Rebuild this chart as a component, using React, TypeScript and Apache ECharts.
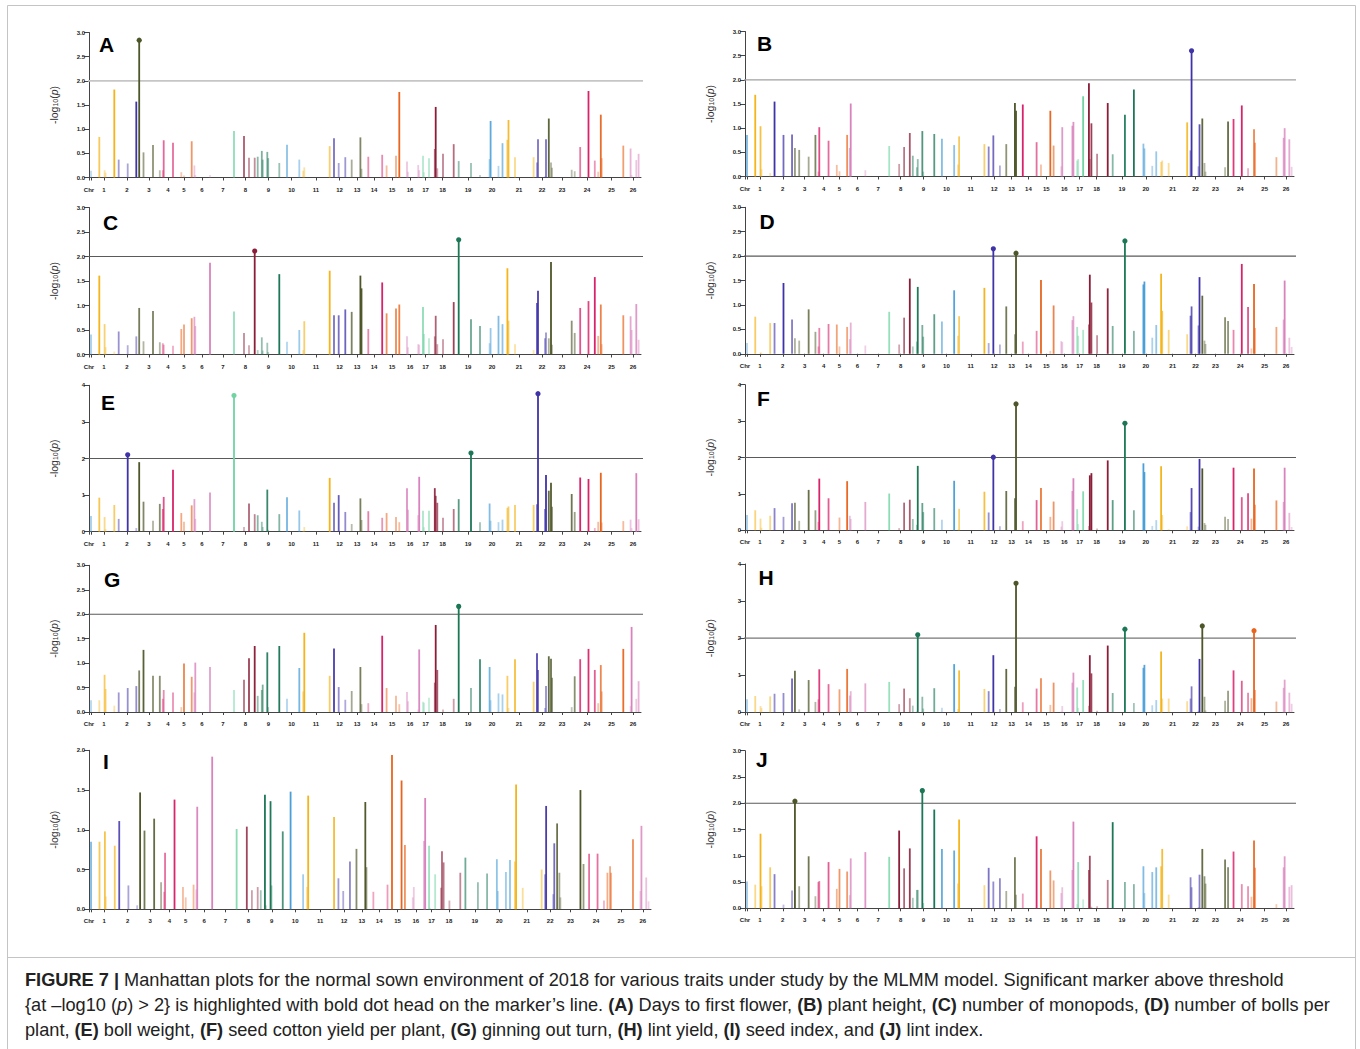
import React, { useEffect, useRef } from 'react';
import * as echarts from 'echarts';

// Chromosome tick labels and their positions along the genome axis
const chrLabels = ['Chr', '1', '2', '3', '4', '5', '6', '7', '8', '9', '10', '11', '12', '13', '14', '15', '16', '17', '18', '19', '20', '21', '22', '23', '24', '25', '26'];
const chrLabelPos = [0, 15, 38, 60, 79, 95, 113, 134, 156.5, 179.5, 202.5, 227, 250.5, 268, 285, 303, 321, 336.5, 353.5, 379, 403, 430, 453, 473, 498, 522.5, 544];
const chrTickPos = [0, 2.5, 15, 38, 60, 79, 95, 113, 134, 156.5, 179.5, 202.5, 227, 250.5, 268, 285, 303, 321, 336.5, 353.5, 379, 403, 430, 453, 473, 498, 522.5, 544];

// Marker positions (cumulative genome position) and chromosome of each marker
const markerPos = [
  2, 10.3, 15.6, 16.6, 25.3, 29.7, 38.7, 47.3, 50.2, 54.5,
  64, 70.8, 73.8, 74.7, 84, 92.3, 95, 102.7, 105.4, 106.3,
  121, 145, 155, 160, 165.7, 168.7, 172.8, 173.7, 178.3, 179.2,
  190.3, 198, 210.3, 214.2, 215.3, 240.7, 245, 249.7, 256.3, 262.7,
  271.4, 272.5, 279.3, 293.2, 297.6, 307, 310.3, 318, 319, 329.2,
  330.2, 334, 335, 340, 345.8, 346.7, 348.3, 354, 364.7, 369.7,
  382, 391, 400.6, 401.6, 409.5, 413.5, 418.4, 419.5, 426, 444.6,
  448, 449, 456, 457, 459.8, 462, 463, 482.7, 485.7, 491.2,
  499.5, 505.8, 509.2, 511.8, 512.7, 534.3, 541.6, 542.6, 547.3, 549.6,
];
const markerChr = [
  0, 1, 1, 1, 1, 2, 2, 2, 3, 3,
  3, 3, 4, 4, 4, 5, 5, 5, 6, 6,
  6, 7, 8, 8, 8, 9, 9, 9, 9, 9,
  9, 10, 10, 11, 11, 11, 12, 12, 12, 13,
  13, 13, 14, 14, 15, 15, 15, 16, 16, 16,
  16, 17, 17, 17, 18, 18, 18, 18, 18, 19,
  19, 19, 20, 20, 20, 20, 21, 21, 21, 21,
  22, 22, 22, 22, 23, 23, 23, 23, 23, 24,
  24, 24, 25, 25, 25, 25, 26, 26, 26, 26,
];

// -log10(p) per marker for each trait
const traitA = [
  0.14, 0.84, 0.15, 0.10, 1.82, 0.37, 0.29, 1.57, 2.84, 0.52,
  0.67, 0.15, 0.15, 0.77, 0.72, 0.11, 0.04, 0.75, 0.25, 0.05,
  0.05, 0.96, 0.86, 0.41, 0.41, 0.43, 0.55, 0.37, 0.53, 0.40,
  0.30, 0.68, 0.37, 0.14, 0.21, 0.65, 0.81, 0.30, 0.42, 0.37,
  0.83, 0.18, 0.43, 0.47, 0.25, 0.45, 1.77, 0.33, 0.12, 0.26,
  0.15, 0.45, 0.11, 0.40, 0.59, 1.46, 0.19, 0.49, 0.69, 0.34,
  0.30, 0.05, 0.38, 1.17, 0.24, 0.71, 0.78, 1.19, 0.42, 0.42,
  0.31, 0.79, 0.02, 0.79, 1.22, 0.31, 0.20, 0.16, 0.13, 0.63,
  1.79, 0.35, 0.12, 1.30, 0.40, 0.66, 0.60, 0.05, 0.36, 0.49,
];
const traitB = [
  0.86, 1.69, 1.04, 0.15, 0.07, 1.55, 0.86, 0.87, 0.59, 0.55,
  0.41, 0.86, 0.10, 1.02, 0.74, 0.24, 0.11, 0.86, 0.59, 1.51,
  0.13, 0.63, 0.26, 0.61, 0.90, 0.43, 0.19, 0.36, 0.94, 0.10,
  0.88, 0.78, 0.65, 0.25, 0.83, 0.67, 0.62, 0.85, 0.23, 0.67,
  1.52, 1.36, 1.49, 0.71, 0.25, 1.36, 0.64, 0.21, 1.02, 1.05,
  1.13, 0.33, 0.36, 1.66, 1.93, 0.36, 1.10, 0.47, 1.52, 0.46,
  1.28, 1.80, 0.68, 0.58, 0.22, 0.52, 0.30, 0.33, 0.28, 1.12,
  0.54, 2.60, 0.21, 1.08, 1.20, 0.28, 0.10, 0.19, 1.14, 1.19,
  1.47, 0.17, 0.01, 0.98, 0.70, 0.40, 0.80, 1.00, 0.77, 0.20,
];
const traitC = [
  0.41, 1.61, 0.62, 0.15, 0.06, 0.47, 0.19, 0.37, 0.95, 0.27,
  0.89, 0.25, 0.23, 0.20, 0.18, 0.52, 0.61, 0.74, 0.77, 0.58,
  1.87, 0.88, 0.44, 0.19, 2.11, 0.09, 0.35, 0.08, 0.24, 0.05,
  1.64, 0.26, 0.50, 0.09, 0.68, 1.71, 0.80, 0.80, 0.92, 0.87,
  1.61, 1.35, 0.52, 1.47, 0.84, 0.94, 1.02, 0.37, 0.15, 0.21,
  0.20, 0.97, 0.42, 0.33, 0.37, 0.79, 0.21, 0.31, 1.07, 2.34,
  0.72, 0.58, 0.23, 0.54, 0.79, 0.62, 1.76, 0.69, 0.21, 0.09,
  1.05, 1.30, 0.33, 0.45, 0.33, 1.89, 0.20, 0.69, 0.44, 0.95,
  1.09, 1.58, 0.38, 1.02, 0.21, 0.80, 0.78, 0.50, 1.03, 0.30,
];
const traitD = [
  0.22, 0.76, 0.03, 0.02, 0.63, 0.63, 1.45, 0.70, 0.32, 0.27,
  0.91, 0.45, 0.15, 0.53, 0.61, 0.60, 0.15, 0.55, 0.30, 0.64,
  0.17, 0.86, 0.19, 0.74, 1.54, 0.15, 0.25, 1.37, 0.59, 0.35,
  0.81, 0.66, 1.30, 0.37, 0.77, 1.35, 0.22, 2.15, 0.19, 0.97,
  0.40, 2.06, 0.25, 0.47, 1.51, 0.06, 0.99, 0.26, 0.24, 0.69,
  0.77, 0.55, 0.37, 0.49, 0.60, 1.62, 1.05, 0.38, 1.34, 0.57,
  2.31, 0.47, 1.42, 1.48, 0.33, 0.59, 1.64, 0.88, 0.49, 0.40,
  0.78, 0.97, 0.58, 1.57, 1.19, 0.27, 0.20, 0.75, 0.67, 0.49,
  1.84, 0.96, 0.11, 1.43, 0.53, 0.55, 0.70, 1.50, 0.33, 0.14,
];
const traitE = [
  0.43, 0.93, 0.40, 0.07, 0.73, 0.35, 2.10, 0.10, 1.90, 0.82,
  0.30, 0.76, 0.62, 0.95, 1.69, 0.51, 0.27, 0.72, 0.89, 0.35,
  1.07, 3.72, 0.13, 0.77, 0.48, 0.45, 0.27, 0.13, 1.15, 0.05,
  0.48, 0.94, 0.58, 0.02, 0.13, 1.47, 0.79, 1.00, 0.54, 0.21,
  0.91, 0.32, 0.56, 0.38, 0.51, 0.40, 0.26, 1.19, 0.60, 0.45,
  1.50, 0.57, 0.12, 0.57, 1.19, 0.98, 0.79, 0.38, 0.62, 0.89,
  2.15, 0.26, 0.77, 0.30, 0.26, 0.33, 0.65, 0.69, 0.73, 0.73,
  0.75, 3.77, 0.62, 1.55, 1.12, 1.34, 0.68, 1.03, 0.54, 1.48,
  1.44, 0.10, 0.27, 1.61, 0.25, 0.29, 0.33, 0.10, 1.60, 0.34,
];
const traitF = [
  0.42, 0.55, 0.32, 0.07, 0.40, 0.61, 0.37, 0.74, 0.76, 0.26,
  1.11, 0.55, 0.23, 1.42, 0.88, 0.01, 0.35, 1.35, 0.40, 0.31,
  0.78, 1.01, 0.06, 0.76, 0.84, 0.31, 0.15, 1.77, 0.75, 0.50,
  0.61, 0.29, 1.36, 0.02, 0.59, 1.06, 0.49, 2.01, 0.11, 1.08,
  0.88, 3.47, 0.25, 0.83, 1.16, 0.37, 0.79, 0.10, 0.25, 1.08,
  1.43, 0.58, 0.17, 1.07, 0.12, 1.51, 1.57, 0.05, 1.92, 0.83,
  2.94, 0.55, 1.84, 1.60, 0.12, 0.28, 1.76, 0.42, 0.03, 0.11,
  0.50, 1.16, 0.10, 1.96, 1.70, 0.20, 0.15, 0.37, 0.31, 1.72,
  0.91, 1.02, 0.32, 1.70, 0.70, 0.82, 0.78, 1.72, 0.48, 0.09,
];
const traitG = [
  0.24, 0.24, 0.76, 0.47, 0.13, 0.40, 0.49, 0.53, 0.85, 1.27,
  0.74, 0.74, 0.27, 0.45, 0.40, 0.10, 0.99, 0.72, 0.40, 1.01,
  0.92, 0.45, 0.66, 1.10, 1.35, 0.33, 0.45, 0.56, 1.22, 0.10,
  1.35, 0.27, 0.90, 0.42, 1.62, 0.74, 1.30, 0.51, 0.25, 0.43,
  0.92, 0.16, 0.18, 1.56, 0.49, 0.33, 0.16, 0.41, 0.22, 0.05,
  1.28, 0.21, 0.19, 0.29, 0.60, 1.78, 0.86, 0.05, 0.27, 2.16,
  0.49, 1.08, 0.92, 0.24, 0.38, 0.36, 0.74, 0.08, 1.08, 0.62,
  1.20, 0.86, 0.08, 0.53, 1.14, 1.09, 0.70, 0.10, 0.73, 1.08,
  1.29, 0.86, 0.18, 0.96, 0.42, 1.29, 0.12, 1.74, 0.27, 0.63,
];
const traitH = [
  0.35, 0.44, 0.17, 0.12, 0.43, 0.50, 0.52, 0.91, 1.12, 0.08,
  0.87, 0.28, 0.35, 1.16, 0.76, 0.02, 0.62, 1.17, 0.45, 0.57,
  0.78, 0.82, 0.22, 0.64, 0.38, 0.18, 0.02, 2.09, 0.42, 0.10,
  0.65, 0.12, 1.30, 0.09, 1.13, 0.63, 0.57, 1.54, 0.09, 1.17,
  0.69, 3.48, 0.27, 0.64, 0.92, 0.20, 0.80, 0.02, 0.17, 0.80,
  1.07, 0.67, 0.12, 0.87, 0.18, 1.54, 1.05, 0.04, 1.80, 0.52,
  2.24, 0.25, 1.20, 1.28, 0.19, 0.33, 1.64, 0.37, 0.37, 0.30,
  0.37, 0.70, 0.04, 1.44, 2.33, 0.42, 0.05, 0.31, 0.58, 1.13,
  0.85, 0.53, 0.38, 2.20, 0.60, 0.29, 0.66, 0.88, 0.53, 0.23,
];
const traitI = [
  0.85, 0.85, 0.98, 0.16, 0.80, 1.11, 0.30, 0.05, 1.47, 0.99,
  1.14, 0.34, 0.22, 0.71, 1.38, 0.28, 0.15, 0.31, 0.25, 1.29,
  1.92, 1.01, 1.04, 0.24, 0.28, 0.24, 1.44, 0.05, 1.36, 0.30,
  0.98, 1.48, 0.44, 0.28, 1.43, 1.16, 0.39, 0.23, 0.60, 0.76,
  1.35, 0.53, 0.22, 0.31, 1.94, 1.62, 0.81, 0.15, 0.28, 0.86,
  1.40, 0.80, 0.02, 0.44, 0.27, 0.73, 0.59, 0.11, 0.46, 0.65,
  0.34, 0.45, 0.63, 0.23, 0.47, 0.62, 0.60, 1.57, 0.27, 0.50,
  0.44, 1.30, 0.19, 0.83, 1.08, 0.46, 0.15, 1.50, 0.57, 0.70,
  0.70, 0.11, 0.46, 0.54, 0.46, 0.88, 0.23, 1.05, 0.40, 0.10,
];
const traitJ = [
  0.51, 0.45, 1.42, 0.42, 0.78, 0.65, 0.07, 0.34, 2.04, 0.42,
  0.99, 0.23, 0.50, 0.52, 0.88, 0.37, 0.75, 0.70, 0.25, 0.95,
  1.07, 0.98, 1.48, 0.76, 1.14, 0.20, 0.35, 0.35, 2.24, 0.10,
  1.88, 1.13, 1.10, 0.47, 1.69, 0.44, 0.77, 0.51, 0.57, 0.33,
  0.97, 0.26, 0.28, 1.37, 1.13, 0.72, 0.53, 0.29, 0.40, 0.73,
  1.65, 0.08, 0.88, 0.17, 0.73, 1.00, 0.03, 0.04, 0.54, 1.64,
  0.50, 0.46, 0.80, 0.29, 0.69, 0.78, 0.80, 1.13, 0.26, 0.01,
  0.59, 0.40, 0.02, 0.64, 1.13, 0.61, 0.47, 0.93, 0.78, 1.08,
  0.46, 0.42, 0.22, 1.29, 0.77, 0.08, 0.78, 0.99, 0.41, 0.44,
];

const THRESHOLD = 2;

const chrPalette = ['#4a9fd8', '#f4b41a', '#3f33a8', '#4d5628', '#d8236a', '#e8651f', '#d883bd', '#6fd3a3', '#8a1d38', '#1c7757'];

type Panel = {
  letter: string; values: number[]; yMax: number; yStep: number; dec: number;
  left: number; top: number; width: number; height: number;
  thr: string | null; letterX: number; letterY: number;
};

const panels: Panel[] = [
  { letter: 'A', values: traitA, yMax: 3, yStep: 0.5, dec: 1, left: 89, top: 32.5, width: 552, height: 145, thr: '#c6c6c6', letterX: 99, letterY: 44.5 },
  { letter: 'B', values: traitB, yMax: 3, yStep: 0.5, dec: 1, left: 745, top: 31.5, width: 549, height: 145, thr: '#a0a0a0', letterX: 757, letterY: 43.5 },
  { letter: 'C', values: traitC, yMax: 3, yStep: 0.5, dec: 1, left: 89, top: 207.5, width: 552, height: 147, thr: '#5a5a5a', letterX: 103, letterY: 222 },
  { letter: 'D', values: traitD, yMax: 3, yStep: 0.5, dec: 1, left: 745, top: 207.3, width: 549, height: 146.5, thr: '#5a5a5a', letterX: 759.5, letterY: 221 },
  { letter: 'E', values: traitE, yMax: 4, yStep: 1, dec: 0, left: 89, top: 385.3, width: 552, height: 146.4, thr: '#5a5a5a', letterX: 101, letterY: 402 },
  { letter: 'F', values: traitF, yMax: 4, yStep: 1, dec: 0, left: 745, top: 384.7, width: 549, height: 145.6, thr: '#5a5a5a', letterX: 757, letterY: 398.5 },
  { letter: 'G', values: traitG, yMax: 3, yStep: 0.5, dec: 1, left: 89, top: 565.3, width: 552, height: 146.7, thr: '#5a5a5a', letterX: 104, letterY: 579 },
  { letter: 'H', values: traitH, yMax: 4, yStep: 1, dec: 0, left: 745, top: 564, width: 549, height: 148.3, thr: '#777777', letterX: 758.5, letterY: 577 },
  { letter: 'I', values: traitI, yMax: 2, yStep: 0.5, dec: 1, left: 89, top: 750.3, width: 562, height: 159, thr: null, letterX: 103, letterY: 761.5 },
  { letter: 'J', values: traitJ, yMax: 3, yStep: 0.5, dec: 1, left: 745, top: 750.7, width: 549, height: 157.6, thr: '#5a5a5a', letterX: 756, letterY: 759.5 },
];

const FONT = 'Liberation Sans, Arial, Helvetica, sans-serif';
const CAP = 18.2;

function chrLabelFor(v: number): string {
  for (let i = 0; i < chrLabelPos.length; i++) {
    if (Math.abs(chrLabelPos[i] - v) < 0.01) return chrLabels[i];
  }
  return '';
}

function buildOption() {
  const grid: any[] = [];
  const xAxis: any[] = [];
  const yAxis: any[] = [];
  const series: any[] = [];
  const graphic: any[] = [];

  panels.forEach((p, i) => {
    grid.push({ left: p.left, top: p.top, width: p.width, height: p.height, containLabel: false });
    xAxis.push({
      type: 'value', gridIndex: i, min: 0, max: 552, offset: 6,
      axisLine: { show: true, lineStyle: { color: '#444', width: 1 } },
      axisTick: { show: true, customValues: chrTickPos, length: 3, lineStyle: { color: '#444', width: 1 } },
      axisLabel: {
        customValues: chrLabelPos, formatter: (v: number) => chrLabelFor(v),
        fontSize: 6, fontWeight: 'bold', color: '#222', fontFamily: FONT, margin: 3,
      },
      splitLine: { show: false },
    });
    yAxis.push({
      type: 'value', gridIndex: i, min: 0, max: p.yMax, interval: p.yStep,
      axisLine: { show: true, lineStyle: { color: '#444', width: 1 } },
      axisTick: { show: true, length: 5, lineStyle: { color: '#444' } },
      axisLabel: {
        fontSize: 6, fontWeight: 'bold', color: '#222', fontFamily: FONT, margin: 4,
        formatter: (v: number) => v.toFixed(p.dec),
      },
      splitLine: { show: false },
      name: '-log{s|10}({i|p})', nameLocation: 'middle', nameRotate: 90, nameGap: 30,
      nameTextStyle: {
        fontSize: 10.5, color: '#333', fontFamily: FONT,
        rich: {
          s: { fontSize: 7, color: '#333', fontFamily: FONT, padding: [0, 0, -4, 0] },
          i: { fontSize: 10.5, color: '#333', fontFamily: FONT, fontStyle: 'italic' },
        },
      },
    });
    const data = markerPos.map((x, k) => [x, p.values[k], markerChr[k]]);
    series.push({
      type: 'custom', xAxisIndex: i, yAxisIndex: i, data, clip: false, silent: true,
      encode: { x: 0, y: 1 },
      renderItem: (_params: any, api: any) => {
        const x = api.value(0) as number;
        const h = api.value(1) as number;
        const c = api.value(2) as number;
        const base = api.coord([x, 0]);
        const top = api.coord([x, h]);
        const color = chrPalette[c % 10];
        const sig = h > THRESHOLD;
        const op = sig ? 1 : 0.3 + 0.7 * Math.min(1, h / 1.4);
        const children: any[] = [
          { type: 'rect', shape: { x: base[0] - 0.9, y: top[1], width: 1.8, height: Math.max(0.5, base[1] - top[1]) }, style: { fill: color, opacity: op } },
        ];
        if (sig) children.push({ type: 'circle', shape: { cx: top[0], cy: top[1], r: 2.6 }, style: { fill: color } });
        return { type: 'group', children };
      },
    });
    if (p.thr) {
      series.push({
        type: 'line', xAxisIndex: i, yAxisIndex: i, clip: false, silent: true, symbol: 'none',
        data: [[-5, THRESHOLD], [566, THRESHOLD]], z: 1,
        lineStyle: { color: p.thr, width: p.letter === 'A' ? 1.6 : 1.1 },
      });
    }
    graphic.push({
      type: 'text', x: p.letterX, y: p.letterY, silent: true,
      style: { text: p.letter, fontSize: 21, fontWeight: 'bold', fontFamily: FONT, fill: '#000', textAlign: 'left', textVerticalAlign: 'middle', align: 'left', verticalAlign: 'middle' },
    });
  });

  // frame
  graphic.push({ type: 'rect', shape: { x: 7.5, y: 5.5, width: 1348, height: 1050 }, style: { fill: 'none', stroke: '#c4c4c4', lineWidth: 1 }, silent: true, z: -1 });
  graphic.push({ type: 'line', shape: { x1: 7.5, y1: 957.5, x2: 1355.5, y2: 957.5 }, style: { stroke: '#c4c4c4', lineWidth: 1 }, silent: true });

  const rich = {
    b: { fontSize: CAP, fontWeight: 'bold', fontFamily: FONT, fill: '#222', color: '#222' },
    i: { fontSize: CAP, fontStyle: 'italic', fontFamily: FONT, fill: '#222', color: '#222' },
  };
  const captionLines = [
    '{b|FIGURE 7 |} Manhattan plots for the normal sown environment of 2018 for various traits under study by the MLMM model. Significant marker above threshold',
    '{at \u2013log10 ({i|p}) > 2} is highlighted with bold dot head on the marker\u2019s line. {b|(A)} Days to first flower, {b|(B)} plant height, {b|(C)} number of monopods, {b|(D)} number of bolls per',
    'plant, {b|(E)} boll weight, {b|(F)} seed cotton yield per plant, {b|(G)} ginning out turn, {b|(H)} lint yield, {b|(I)} seed index, and {b|(J)} lint index.',
  ];
  captionLines.forEach((t, k) => {
    graphic.push({
      type: 'text', x: 25, y: 980 + k * 25, silent: true,
      style: { text: t, rich, fontSize: CAP, fontFamily: FONT, fill: '#222', textAlign: 'left', textVerticalAlign: 'middle', align: 'left', verticalAlign: 'middle' },
    });
  });

  return {
    animation: false,
    backgroundColor: '#ffffff',
    grid, xAxis, yAxis, series, graphic,
  };
}

export default function App() {
  const ref = useRef<HTMLDivElement>(null);
  useEffect(() => {
    if (!ref.current) return;
    const chart = echarts.init(ref.current, undefined, { renderer: 'svg', width: 1360, height: 1049 });
    chart.setOption(buildOption() as any);
    return () => chart.dispose();
  }, []);
  return (
    <div style={{ position: 'absolute', left: 0, top: 0, width: 1360, height: 1049, background: '#fff' }}>
      <div ref={ref} style={{ width: 1360, height: 1049 }} />
    </div>
  );
}
